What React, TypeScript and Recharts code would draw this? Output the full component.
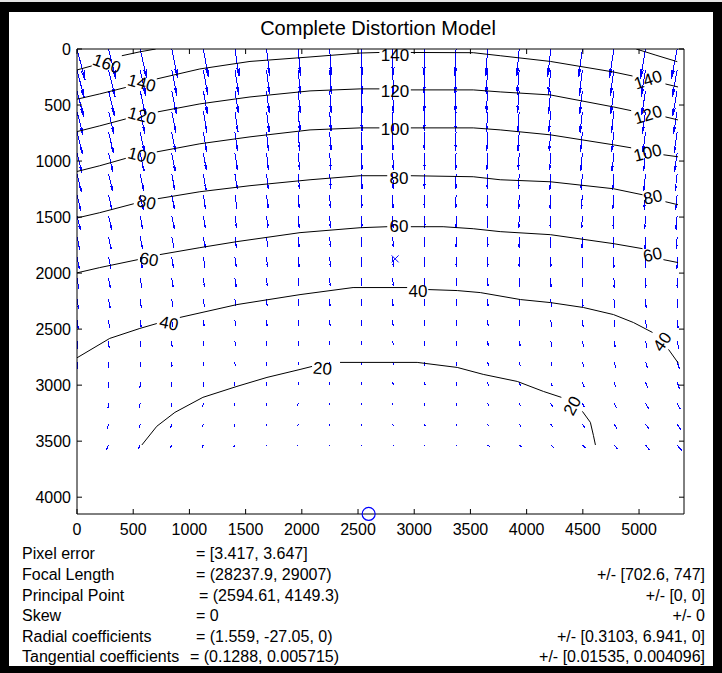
import { ComposedChart, Line, Scatter, XAxis, YAxis } from 'recharts'

const FONT = "'Liberation Sans', Arial, Helvetica, sans-serif"
const X_MAX = 5400
const Y_MAX = 4150

// sampling grid of the distortion field (image pixels)
const gridX = [0, 281, 562, 843, 1124, 1405, 1686, 1967, 2248, 2529, 2810, 3091, 3372, 3653, 3934, 4215, 4496, 4777, 5058, 5339]
const gridY = [0, 186, 372, 558, 744, 930, 1116, 1302, 1488, 1674, 1860, 2046, 2232, 2418, 2604, 2790, 2976, 3162, 3348, 3534]

// vertical displacement (px) at each grid node, row by row
const dyTable = [
  [172, 166, 161, 157, 153, 150, 147, 146, 145, 144, 144, 145, 146, 147, 150, 152, 155, 159, 163, 167],
  [156, 151, 146, 142, 139, 136, 134, 132, 131, 131, 131, 132, 133, 134, 136, 138, 141, 144, 147, 151],
  [142, 137, 134, 130, 127, 125, 123, 121, 120, 120, 120, 121, 121, 123, 124, 126, 128, 131, 134, 137],
  [129, 125, 121, 118, 115, 113, 111, 110, 109, 109, 109, 109, 110, 111, 113, 114, 116, 118, 121, 124],
  [117, 113, 110, 107, 105, 103, 101, 100, 99, 99, 99, 99, 100, 101, 102, 104, 106, 108, 110, 113],
  [107, 103, 100, 98, 95, 94, 92, 91, 90, 90, 90, 90, 91, 92, 93, 94, 96, 98, 100, 102],
  [97, 94, 91, 88, 86, 84, 83, 82, 81, 81, 81, 81, 82, 83, 84, 85, 87, 89, 91, 93],
  [87, 84, 81, 79, 77, 75, 74, 73, 72, 72, 72, 72, 73, 74, 75, 76, 77, 79, 81, 83],
  [80, 77, 74, 72, 70, 68, 67, 66, 65, 65, 65, 65, 66, 67, 68, 69, 70, 72, 74, 76],
  [72, 69, 66, 64, 62, 60, 59, 58, 57, 57, 57, 57, 58, 59, 60, 61, 62, 64, 66, 68],
  [65, 62, 59, 57, 55, 53, 52, 51, 50, 50, 50, 50, 51, 52, 53, 54, 56, 58, 60, 62],
  [58, 55, 52, 50, 48, 46, 45, 44, 43, 43, 43, 43, 44, 45, 46, 48, 49, 51, 53, 56],
  [53, 50, 47, 44, 42, 40, 39, 38, 37, 37, 37, 37, 38, 39, 40, 42, 44, 46, 48, 51],
  [48, 44, 41, 39, 36, 35, 33, 32, 31, 31, 31, 31, 32, 33, 35, 36, 38, 40, 43, 46],
  [43, 39, 36, 33, 31, 29, 27, 26, 25, 25, 25, 26, 26, 28, 29, 31, 33, 36, 39, 42],
  [39, 35, 32, 29, 26, 24, 22, 21, 20, 20, 20, 21, 22, 23, 25, 27, 29, 32, 35, 39],
  [36, 32, 28, 25, 22, 19, 18, 16, 15, 15, 15, 16, 17, 18, 20, 22, 25, 28, 32, 36],
  [33, 28, 25, 21, 18, 16, 14, 12, 11, 11, 11, 12, 13, 14, 16, 19, 22, 26, 30, 34],
  [32, 27, 23, 19, 16, 13, 11, 9, 8, 8, 8, 9, 10, 12, 14, 17, 20, 24, 28, 33],
  [30, 25, 20, 16, 13, 10, 8, 6, 5, 5, 5, 6, 7, 9, 11, 14, 18, 22, 27, 32],
]

// horizontal displacement (px) at each grid node
const dxTable = [
  [45, 41, 36, 32, 27, 23, 18, 14, 9, 5, 1, -3, -6, -10, -14, -17, -21, -25, -28, -32],
  [40, 36, 32, 28, 25, 21, 17, 13, 9, 5, 2, -2, -5, -8, -11, -14, -17, -21, -24, -27],
  [36, 32, 29, 26, 22, 19, 15, 12, 8, 5, 2, -1, -4, -7, -10, -13, -15, -18, -21, -24],
  [33, 30, 26, 23, 20, 17, 14, 10, 7, 4, 1, -1, -3, -6, -8, -11, -13, -15, -18, -20],
  [30, 27, 24, 21, 18, 15, 12, 9, 7, 4, 1, -1, -3, -5, -7, -9, -11, -13, -15, -17],
  [27, 24, 22, 19, 17, 14, 11, 9, 6, 4, 2, 0, -2, -4, -5, -7, -9, -11, -12, -14],
  [24, 22, 19, 17, 15, 13, 10, 8, 6, 4, 2, 0, -1, -2, -4, -5, -7, -8, -10, -11],
  [21, 19, 17, 15, 13, 11, 9, 7, 4, 3, 1, 0, -1, -2, -3, -4, -6, -7, -8, -9],
  [19, 17, 15, 14, 12, 10, 8, 6, 4, 3, 1, 1, 0, -1, -2, -3, -4, -4, -5, -6],
  [16, 14, 13, 12, 10, 8, 7, 5, 4, 2, 2, 1, 0, 0, -1, -2, -2, -3, -3, -4],
  [14, 13, 11, 10, 9, 8, 6, 5, 4, 2, 2, 1, 1, 1, 0, 0, 0, -1, -1, -1],
  [11, 10, 9, 8, 7, 6, 5, 4, 3, 2, 2, 2, 2, 2, 1, 1, 1, 1, 1, 1],
  [9, 8, 7, 6, 6, 5, 4, 3, 2, 1, 1, 2, 2, 2, 2, 3, 3, 3, 4, 4],
  [6, 5, 5, 4, 4, 3, 3, 2, 2, 1, 1, 2, 2, 3, 3, 4, 4, 5, 5, 6],
  [3, 3, 3, 2, 2, 2, 2, 1, 1, 1, 2, 2, 3, 4, 5, 6, 7, 7, 8, 9],
  [1, 1, 1, 1, 1, 1, 1, 1, 1, 1, 2, 3, 4, 5, 6, 7, 9, 10, 11, 12],
  [-2, -2, -1, -1, -1, 0, 0, 0, 1, 1, 2, 4, 5, 6, 8, 9, 11, 12, 14, 15],
  [-5, -4, -4, -3, -3, -2, -2, -1, -1, 0, 1, 3, 5, 7, 9, 11, 12, 14, 16, 18],
  [-9, -8, -7, -6, -5, -4, -3, -2, -1, 0, 2, 4, 6, 8, 10, 12, 14, 17, 19, 21],
  [-12, -11, -9, -8, -7, -6, -4, -3, -2, 0, 2, 4, 7, 10, 12, 15, 17, 20, 22, 25],
]

// contour lines, null = gap left for the inline label
type Pt = [number, number] | null
const contour160 = [[0, 187], [131, 151], null, [399, 60], [560, 25], [700, 0]] as Pt[]
const contour160b = [[4975, 0], [5150, 55], [5340, 113]] as Pt[]
const contour140 = [[0, 448], [202, 401], [434, 343], null, [710, 267], [1093, 178], [1539, 111], [2073, 71], [2519, 36], [2690, 31], null, [2970, 31], [3525, 33], [3765, 60], [4211, 111], [4772, 205], [4942, 241], null, [5235, 312], [5347, 339]] as Pt[]
const contour120 = [[0, 737], [202, 686], [434, 624], null, [719, 561], [1093, 490], [1539, 428], [2073, 374], [2519, 356], [2690, 356], null, [2970, 365], [3525, 365], [3765, 383], [4211, 410], [4772, 517], [4930, 550], null, [5235, 606], [5347, 633]] as Pt[]
const contour100 = [[0, 1093], [202, 1042], [434, 976], null, [710, 918], [1093, 846], [1539, 784], [2073, 722], [2519, 704], [2690, 704], null, [2970, 704], [3525, 704], [3765, 722], [4211, 766], [4772, 855], [4930, 882], null, [5217, 944], [5347, 962]] as Pt[]
const contour80 = [[0, 1508], [202, 1461], [505, 1381], null, [719, 1336], [1093, 1274], [1539, 1220], [2073, 1167], [2519, 1131], [2760, 1131], null, [2970, 1131], [3525, 1140], [3765, 1167], [4211, 1185], [4772, 1247], [5031, 1301], null, [5235, 1363], [5347, 1390]] as Pt[]
const contour60 = [[0, 1998], [202, 1951], [541, 1880], null, [737, 1835], [1093, 1773], [1423, 1719], [1984, 1639], [2519, 1595], [2760, 1586], null, [2970, 1586], [3257, 1586], [3525, 1604], [3765, 1630], [4211, 1657], [4772, 1737], [5031, 1782], null, [5217, 1880], [5347, 1906]] as Pt[]
const contour40 = [[0, 2756], [291, 2583], [559, 2494], [710, 2450], null, [915, 2396], [1423, 2281], [1984, 2192], [2456, 2129], [2937, 2129], null, [3125, 2147], [3383, 2156], [3588, 2174], [3944, 2236], [4211, 2263], [4505, 2307], [4772, 2370], [4950, 2441], [5120, 2530], null, [5262, 2681], [5351, 2806]] as Pt[]
const contour20 = [[577, 3534], [710, 3367], [871, 3243], [1120, 3109], [1423, 3011], [1690, 2931], [1984, 2860], [2091, 2833], null, [2340, 2797], [3026, 2797], [3383, 2842], [3614, 2904], [3917, 2967], [4149, 3056], [4309, 3109], null, [4496, 3234], [4567, 3332], [4594, 3448], [4612, 3534]] as Pt[]

const contourLabels = [
  { level: 160, x: 264, y: 134 },
  { level: 140, x: 576, y: 306 }, { level: 140, x: 2829, y: 58 }, { level: 140, x: 5080, y: 277 },
  { level: 120, x: 578, y: 598 }, { level: 120, x: 2829, y: 379 }, { level: 120, x: 5080, y: 589 },
  { level: 100, x: 576, y: 955 }, { level: 100, x: 2829, y: 722 }, { level: 100, x: 5076, y: 928 },
  { level: 80, x: 618, y: 1370 }, { level: 80, x: 2865, y: 1152 }, { level: 80, x: 5124, y: 1325 },
  { level: 60, x: 641, y: 1880 }, { level: 60, x: 2865, y: 1588 }, { level: 60, x: 5120, y: 1838 },
  { level: 40, x: 818, y: 2450 }, { level: 40, x: 3034, y: 2165 }, { level: 40, x: 5209, y: 2614 },
  { level: 20, x: 2184, y: 2855 }, { level: 20, x: 4408, y: 3185 },
]
const labelAngles = [20, 15, 0, -18, 15, 0, -17, 14, 0, -14, 12, 0, -12, 10, 0, -12, 12, 0, -55, 5, -62]

const xTicks = [0, 500, 1000, 1500, 2000, 2500, 3000, 3500, 4000, 4500, 5000]
const yTicks = [0, 500, 1000, 1500, 2000, 2500, 3000, 3500, 4000]

const principalPoint = [{ x: 2594.61, y: 4149.3 }]
const imageCenter = [{ x: 2830, y: 1873 }]

const paramNames = ['Pixel error', 'Focal Length', 'Principal Point', 'Skew', 'Radial coefficients', 'Tangential coefficients']
const paramValues = ['= [3.417, 3.647]', '= (28237.9, 29007)', '= (2594.61, 4149.3)', '= 0', '= (1.559, -27.05, 0)', '= (0.1288, 0.005715)']
const paramErrors = ['', '+/- [702.6, 747]', '+/- [0, 0]', '+/- 0', '+/- [0.3103, 6.941, 0]', '+/- [0.01535, 0.004096]']

// quiver look (matlab style)
const ARROW_SCALE = 1.62
const HEAD = 0.3
const BETA = 0.14
const TICK = 5

const arrowData: { x: number; y: number | null }[] = []
gridY.forEach((y0, i) => {
  gridX.forEach((x0, j) => {
    const u = dxTable[i][j] * ARROW_SCALE
    const v = dyTable[i][j] * ARROW_SCALE
    const tx = x0 + u
    const ty = y0 + v
    arrowData.push(
      { x: x0, y: y0 }, { x: tx, y: ty }, { x: tx, y: null },
      { x: tx - HEAD * (u + BETA * v), y: ty - HEAD * (v - BETA * u) },
      { x: tx, y: ty },
      { x: tx - HEAD * (u - BETA * v), y: ty - HEAD * (v + BETA * u) },
      { x: tx, y: null },
    )
  })
})

const toLine = (pts: Pt[]) =>
  pts.map((p, k) => (p ? { x: p[0], y: p[1] } : { x: (pts[k - 1] as [number, number])[0], y: null }))

const contours = [contour160, contour160b, contour140, contour120, contour100, contour80, contour60, contour40, contour20].map(toLine)
const labelData = contourLabels.map((l, i) => ({ ...l, angle: labelAngles[i] }))

const rowBase = [559, 580, 600.5, 621, 641.5, 662]
const valueX = [196, 196, 199, 196, 196, 190]

// matlab puts the tick marks inside the box
const LeftTick = (p: any) => (
  <g>
    <line x1={p.x + 6} x2={p.x + 6 + TICK} y1={p.y} y2={p.y} stroke="#000" />
    <text x={p.x} y={p.y} textAnchor="end" dominantBaseline="central" fontSize={16} fontFamily={FONT} fill="#000">
      {p.payload.value}
    </text>
  </g>
)
const BottomTick = (p: any) => (
  <g>
    <line x1={p.x} x2={p.x} y1={p.y - 9} y2={p.y - 9 - TICK} stroke="#000" />
    <text x={p.x} y={p.y + 11.5} textAnchor="middle" fontSize={16} fontFamily={FONT} fill="#000">
      {p.payload.value}
    </text>
  </g>
)
const TopTick = (p: any) => <line x1={p.x} x2={p.x} y1={p.y} y2={p.y + TICK} stroke="#000" />
const RightTick = (p: any) => <line x1={p.x} x2={p.x - TICK} y1={p.y} y2={p.y} stroke="#000" />

export default function App() {
  return (
    <div style={{ position: 'absolute', left: 0, top: 0, width: 722, height: 673, background: '#000', overflow: 'hidden' }}>
      <div style={{ position: 'absolute', left: 0, top: 0, width: 722, height: 2, background: '#e4e4e4' }} />
      <div style={{ position: 'absolute', left: 9, top: 12, width: 704, height: 654, background: '#fff' }} />
      <div style={{ position: 'absolute', left: 0, top: 0 }}>
        <ComposedChart width={722} height={673} margin={{ top: 48, right: 37, bottom: 129, left: 7 }}>
          <XAxis xAxisId="b" type="number" dataKey="x" domain={[0, X_MAX]} ticks={xTicks} interval={0}
            allowDataOverflow height={30} tickSize={0} tickMargin={9} tickLine={false} stroke="#000" tick={BottomTick} />
          <XAxis xAxisId="t" orientation="top" type="number" dataKey="x" domain={[0, X_MAX]} ticks={xTicks}
            interval={0} allowDataOverflow height={1} tickSize={0} tickMargin={0} tickLine={false} stroke="#000" tick={TopTick} />
          <YAxis yAxisId="l" type="number" dataKey="y" reversed domain={[0, Y_MAX]} ticks={yTicks} interval={0}
            allowDataOverflow width={70} tickSize={0} tickMargin={6} tickLine={false} stroke="#000" tick={LeftTick} />
          <YAxis yAxisId="r" orientation="right" type="number" dataKey="y" reversed domain={[0, Y_MAX]} ticks={yTicks}
            interval={0} allowDataOverflow width={1} tickSize={0} tickMargin={0} tickLine={false} stroke="#000" tick={RightTick} />

          <Line xAxisId="b" yAxisId="l" data={arrowData} dataKey="y" type="linear" stroke="#0000ff"
            strokeWidth={1} shapeRendering="crispEdges" dot={false} activeDot={false} isAnimationActive={false} />
          {contours.map((c, k) => (
            <Line key={k} xAxisId="b" yAxisId="l" data={c} dataKey="y" type="linear" stroke="#000"
              strokeWidth={1} dot={false} activeDot={false} isAnimationActive={false} />
          ))}
          <Scatter xAxisId="b" yAxisId="l" data={labelData} dataKey="y" isAnimationActive={false}
            shape={(p: any) => (
              <text x={p.cx} y={p.cy} transform={`rotate(${p.payload.angle} ${p.cx} ${p.cy})`} textAnchor="middle"
                dominantBaseline="central" fontSize={17} fontFamily={FONT} fill="#000">
                {p.payload.level}
              </text>
            )} />
          <Line xAxisId="b" yAxisId="l" data={principalPoint} dataKey="y" stroke="none" isAnimationActive={false}
            activeDot={false} dot={{ r: 6.5, fill: 'none', stroke: '#0000ff', strokeWidth: 1.2, clipDot: false }} />
          <Scatter xAxisId="b" yAxisId="l" data={imageCenter} dataKey="y" isAnimationActive={false}
            shape={(p: any) => (
              <path d={`M${p.cx - 3.5},${p.cy - 3.5}L${p.cx + 3.5},${p.cy + 3.5}M${p.cx - 3.5},${p.cy + 3.5}L${p.cx + 3.5},${p.cy - 3.5}`}
                stroke="#0000ff" strokeWidth={1} />
            )} />
        </ComposedChart>
      </div>
      <svg width={722} height={673} style={{ position: 'absolute', left: 0, top: 0, pointerEvents: 'none' }}>
        <text x={378} y={35} textAnchor="middle" fontSize={20} fontFamily={FONT} fill="#000">
          Complete Distortion Model
        </text>
        {paramNames.map((name, i) => (
          <g key={name} fontSize={16} fontFamily={FONT} fill="#000">
            <text x={22} y={rowBase[i]}>{name}</text>
            <text x={valueX[i]} y={rowBase[i]}>{paramValues[i]}</text>
            {paramErrors[i] && <text x={705} y={rowBase[i]} textAnchor="end">{paramErrors[i]}</text>}
          </g>
        ))}
      </svg>
    </div>
  )
}
